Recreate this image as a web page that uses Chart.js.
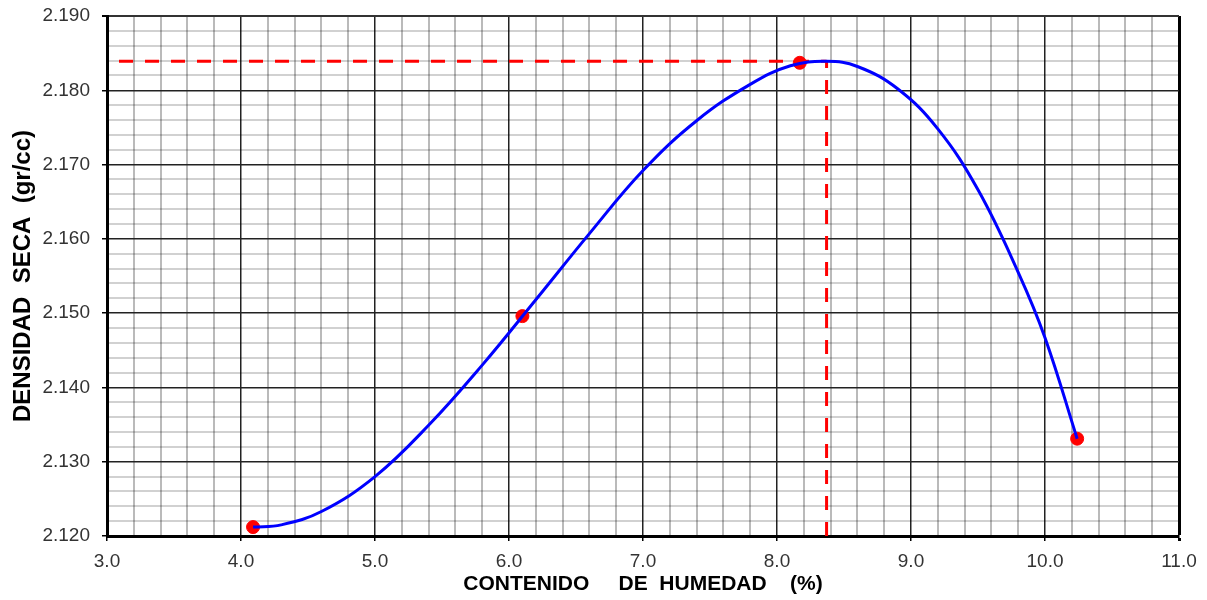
<!DOCTYPE html>
<html>
<head>
<meta charset="utf-8">
<script src="https://cdn.jsdelivr.net/npm/chart.js@4.4.1/dist/chart.umd.min.js"></script>
<style>
  html, body { margin: 0; padding: 0; background: #fff; }
</style>
</head>
<body>
<canvas id="proctorChart" width="1207" height="600"></canvas>
<script>
// puntos del ensayo
const humedad = [4.09, 6.10, 8.17, 10.24];
const densidad = [2.1212, 2.1496, 2.1837, 2.1331];

// curva de ajuste
const curvaX = [4.09, 4.3, 4.6, 5.0, 5.4, 5.8, 6.2, 6.6, 7.0, 7.4, 7.8, 8.1, 8.37, 8.6, 8.9, 9.2, 9.5, 9.8, 10.0, 10.24];
const curvaY = [2.1212, 2.1215, 2.1233, 2.1280, 2.1349, 2.1430, 2.1518, 2.1607, 2.1692, 2.1759, 2.1808, 2.1833, 2.1839, 2.1832, 2.1802, 2.1748, 2.1666, 2.1555, 2.1467, 2.1331];

// humedad optima / densidad maxima
const humedadOptima = [8.37];
const densidadMaxima = [2.1839];

// ejes
const xTicks = [3.0, 4.0, 5.0, 6.0, 7.0, 8.0, 9.0, 10.0, 11.0];
const yTicks = [2.120, 2.130, 2.140, 2.150, 2.160, 2.170, 2.180, 2.190];

const isMajorX = v => xTicks.some(t => Math.abs(t - v) < 1e-6);
const isMajorY = v => yTicks.some(t => Math.abs(t - v) < 1e-7);

const xMin = xTicks[0], xMax = xTicks[xTicks.length - 1];
const yMin = yTicks[0], yMax = yTicks[yTicks.length - 1];

new Chart(document.getElementById("proctorChart"), {
  type: "scatter",
  data: {
    datasets: [
      {
        data: curvaX.map((x, i) => ({ x, y: curvaY[i] })),
        showLine: true,
        borderColor: "#0000ff",
        borderWidth: 3,
        pointRadius: 0,
        tension: 0.4,
        order: 0
      },
      {
        data: humedad.map((x, i) => ({ x, y: densidad[i] })),
        backgroundColor: "#ff0000",
        borderColor: "#ff0000",
        pointRadius: 6.5,
        order: 1
      },
      {
        data: [{ x: xMin, y: densidadMaxima[0] }, { x: humedadOptima[0], y: densidadMaxima[0] }],
        showLine: true,
        borderColor: "#ff0000",
        borderWidth: 3,
        borderDash: [14, 12],
        borderDashOffset: -12,
        pointRadius: 0,
        order: 2
      },
      {
        data: [{ x: humedadOptima[0], y: yMin }, { x: humedadOptima[0], y: densidadMaxima[0] }],
        showLine: true,
        borderColor: "#ff0000",
        borderWidth: 3,
        borderDash: [14, 12],
        pointRadius: 0,
        order: 2
      }
    ]
  },
  options: {
    responsive: false,
    animation: false,
    layout: { padding: { top: 16, right: 28, left: 0, bottom: 0 } },
    plugins: {
      legend: { display: false },
      tooltip: { enabled: false }
    },
    scales: {
      x: {
        type: "linear",
        min: xMin,
        max: xMax,
        afterFit: s => { s.height = 64; s.paddingLeft = 0; s.paddingRight = 0; },
        border: { color: "#000", width: 3 },
        grid: {
          color: c => c.tick.value === xMax ? "#000" : (isMajorX(c.tick.value) ? "#222" : "rgba(0,0,0,0.27)"),
          lineWidth: c => c.tick.value === xMax ? 3 : (isMajorX(c.tick.value) ? 1.5 : 2),
          tickColor: c => isMajorX(c.tick.value) ? "#000" : "rgba(0,0,0,0)",
          tickLength: 5
        },
        ticks: {
          stepSize: 0.2,
          autoSkip: false,
          maxRotation: 0,
          padding: 9,
          color: "#333",
          font: { family: "Liberation Sans", size: 19 },
          callback: v => isMajorX(v) ? v.toFixed(1) : ""
        },
        title: {
          display: true,
          text: "CONTENIDO     DE  HUMEDAD    (%)",
          color: "#000",
          font: { family: "Liberation Sans", size: 21, weight: "bold" },
          padding: { top: 0, bottom: 3 }
        }
      },
      y: {
        type: "linear",
        min: yMin,
        max: yMax,
        afterFit: s => { s.width = 107; s.paddingTop = 0; s.paddingBottom = 0; },
        border: { color: "#000", width: 3 },
        grid: {
          color: c => c.tick.value === yMax ? "#333" : (isMajorY(c.tick.value) ? "#222" : "rgba(0,0,0,0.18)"),
          lineWidth: c => c.tick.value === yMax ? 2 : (isMajorY(c.tick.value) ? 1.5 : 2),
          tickColor: c => isMajorY(c.tick.value) ? "#000" : "rgba(0,0,0,0)",
          tickLength: 5
        },
        ticks: {
          stepSize: 0.002,
          autoSkip: false,
          padding: 12,
          color: "#333",
          font: { family: "Liberation Sans", size: 19 },
          callback: v => isMajorY(v) ? v.toFixed(3) : ""
        },
        title: {
          display: true,
          text: "DENSIDAD  SECA  (gr/cc)",
          color: "#000",
          font: { family: "Liberation Sans", size: 24, weight: "bold" },
          padding: { top: 9, bottom: 0 }
        }
      }
    }
  }
});
</script>
</body>
</html>
